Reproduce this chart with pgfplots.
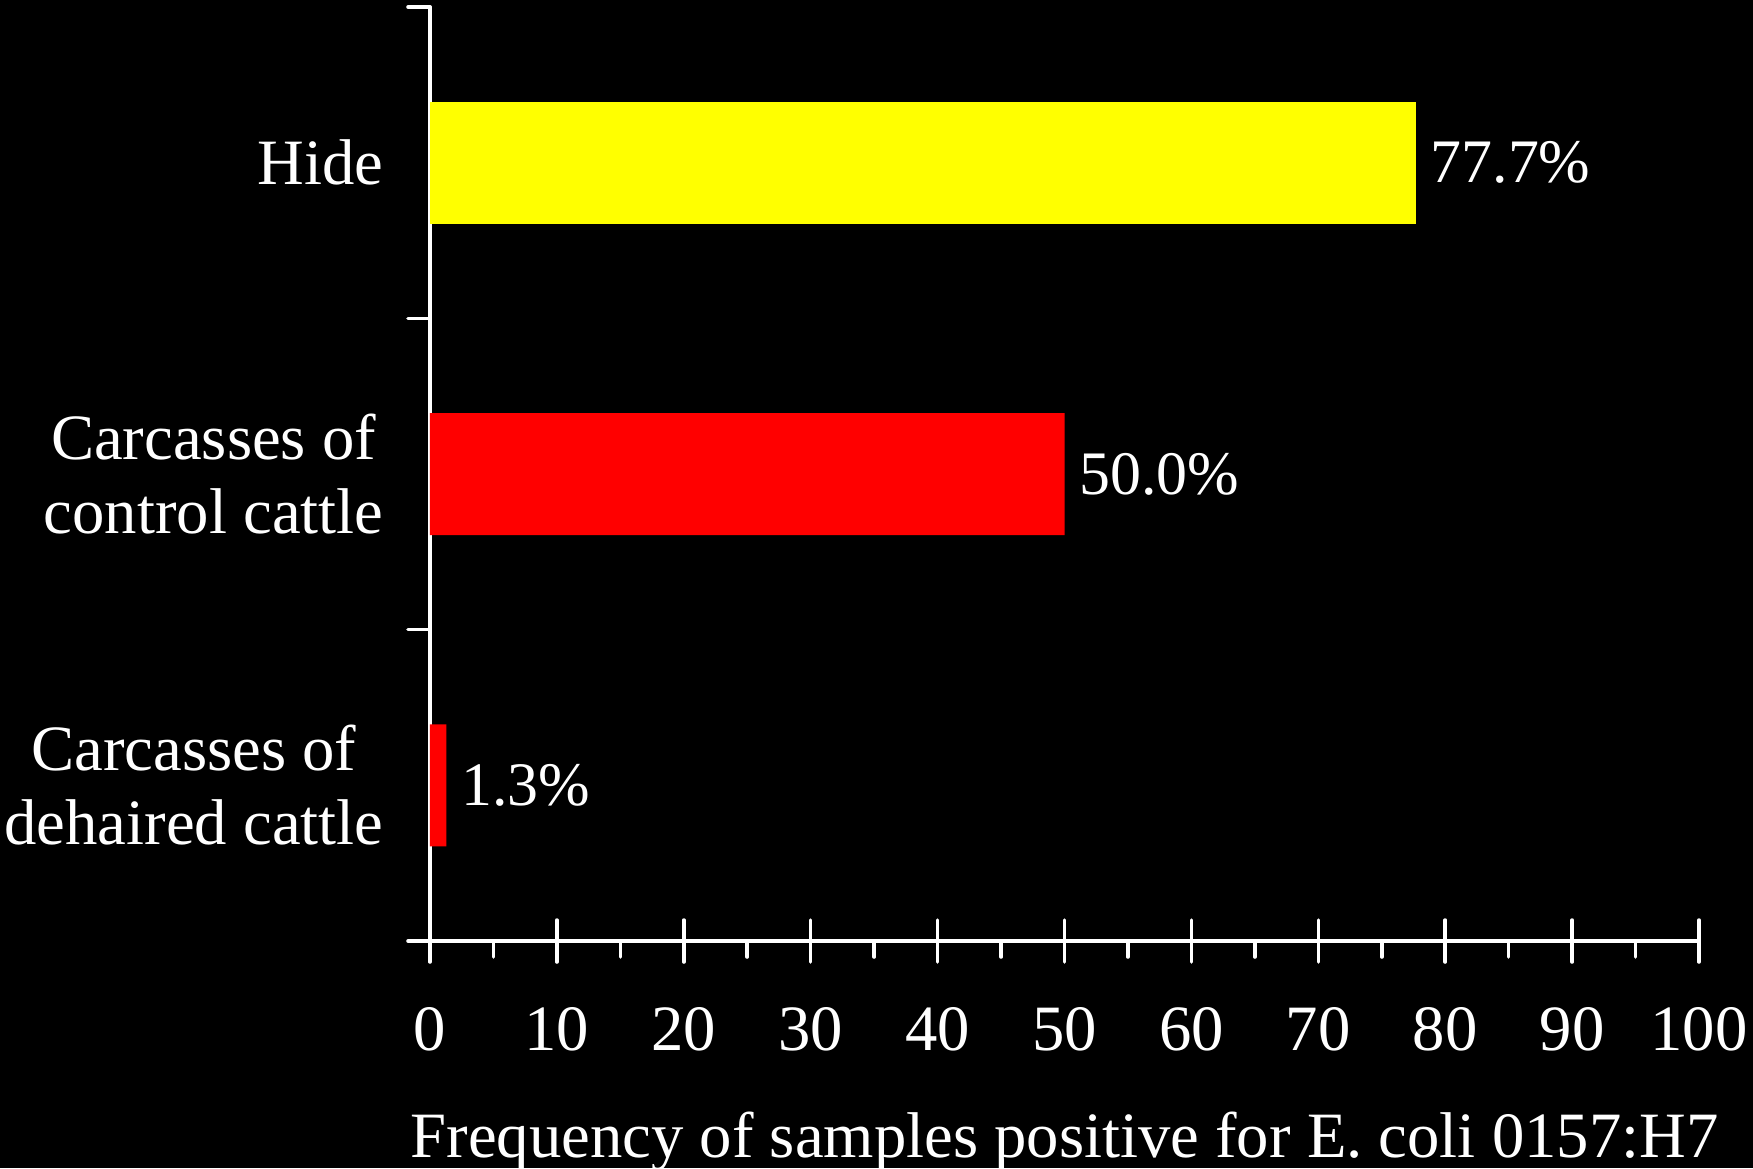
\documentclass[border=0pt]{standalone}
\usepackage{fontspec}
\setmainfont{Liberation Serif}
\usepackage{pgfplots}
\pgfplotsset{compat=1.18}
\usetikzlibrary{calc,backgrounds}
\definecolor{barYellow}{RGB}{255,255,0}
\definecolor{barRed}{RGB}{255,0,0}

\begin{document}
\begin{tikzpicture}
\begin{axis}[
  scale only axis,
  width=12.69cm, height=9.34cm,
  xmin=0, xmax=100, ymin=0, ymax=3,
  xbar, bar width=1.22cm, bar shift=0pt,
  axis x line=bottom, axis y line=left,
  axis line style={-, white, line width=1pt, line cap=round},
  every tick/.style={white, line width=1pt, line cap=round},
  font=\fontsize{18.4}{21}\selectfont,
  /pgf/number format/assume math mode=true,
  tick align=center,
  major tick length=0.42cm,
  xtick={0,10,...,100},
  xticklabel style={anchor=north, inner sep=0pt, yshift=-0.45cm, white},
  extra x ticks={5,15,...,95},
  extra x tick labels={},
  extra x tick style={tick align=outside, major tick length=0.16cm},
  ytick={0.5,1.5,2.5},
  yticklabels={{Carcasses of\\dehaired cattle},{Carcasses of\\control cattle},Hide},
  yticklabel style={align=center, anchor=east, inner sep=0pt, xshift=-0.25cm, white},
  ytick style={draw=none},
  extra y ticks={0,1,2,3},
  extra y tick labels={},
  extra y tick style={tick align=outside, major tick length=0.22cm, ytick style={draw=white}},
  xlabel={Frequency of samples positive for E.\ coli 0157:H7},
  xlabel style={at={(axis description cs:0.5,0)}, anchor=base, inner sep=0pt, yshift=-2.16cm, white},
  point meta=x,
  nodes near coords={\pgfmathprintnumber[fixed,fixed zerofill,precision=1]{\pgfplotspointmeta}\%},
  every node near coord/.append style={anchor=west, inner sep=0pt, xshift=0.14cm, white,
    font=\fontsize{17.6}{21}\selectfont},
]
  % percentage of positive samples per sampling site
  \addplot[fill=barYellow, draw=none] coordinates {(77.7,2.5)};
  \addplot[fill=barRed, draw=none] coordinates {(50.0,1.5) (1.3,0.5)};
  \coordinate (O) at (axis cs:0,0);
\end{axis}
\begin{scope}[on background layer]
  \fill[black] ($(O)+(-4.30,-2.27)$) rectangle ($(O)+(13.23,9.41)$);
\end{scope}
\pgfresetboundingbox
\path[use as bounding box] ($(O)+(-4.30,-2.27)$) rectangle ($(O)+(13.23,9.41)$);
\end{tikzpicture}
\end{document}
